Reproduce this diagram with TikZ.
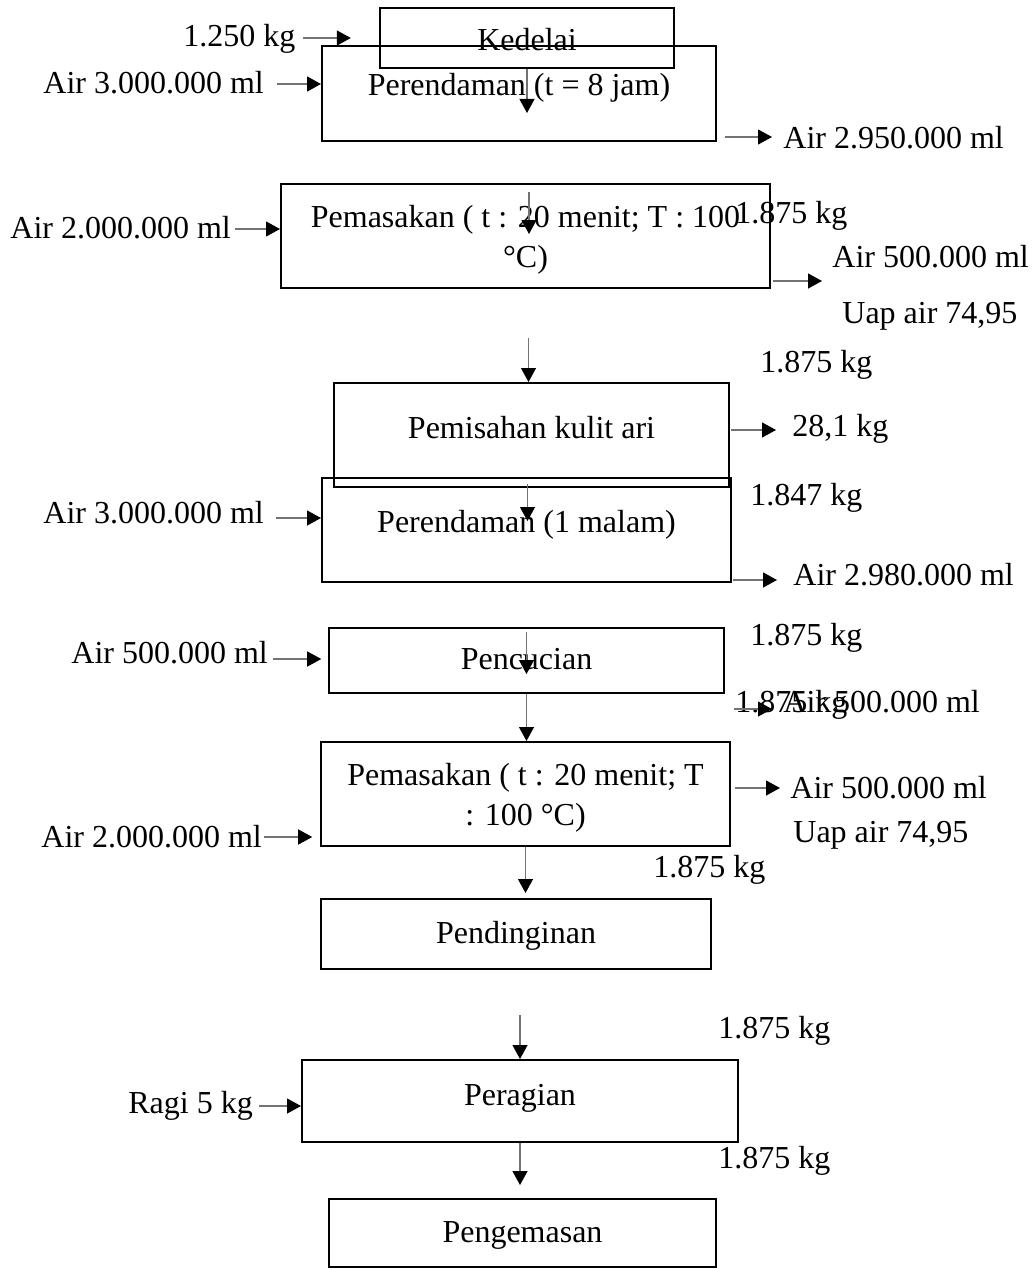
\documentclass[tikz,border=0pt]{standalone}
\usepackage{fontspec}
\setmainfont{Liberation Serif}
\usepackage{tikz}
\usetikzlibrary{arrows.meta, calc}

\tikzset{
  box/.style={draw, line width=1pt, inner sep=0pt},
  oneline/.style={box, text height=13pt, text depth=#1},
  oneline/.default=4pt,
  twoline/.style={box, align=center},
  txt/.style={anchor=west, inner sep=0pt, text height=17pt, text depth=3.5pt},
  flow/.style={draw=black!55, line width=0.6pt, -{Triangle[length=7pt, width=7.5pt, color=black]}}
}

\begin{document}
\begin{tikzpicture}[x=0.5pt, y=-0.5pt, font=\fontsize{16}{20}\selectfont]
\useasboundingbox (0,0) rectangle (1032,1268);

% proses
\node[oneline, text height=16.5pt, minimum width=147pt, minimum height=30pt] (kedelai) at (527,38) {Kedelai};
\node[oneline=11pt, minimum width=197pt, minimum height=47.5pt] (rendam1) at (519,93.5) {Perendaman (t = 8 jam)};
\node[twoline, minimum width=244.5pt, minimum height=52pt] (masak1) at (525.5,236) {\rule{0pt}{15pt}Pemasakan ( t : 20 menit; T : 100\\°C)};
\node[oneline=9.5pt, minimum width=197.5pt, minimum height=52pt] (kulit) at (531.5,435) {Pemisahan kulit ari};
\node[oneline=10.5pt, minimum width=204.5pt, minimum height=52pt] (rendam2) at (526.5,530) {Perendaman (1 malam)};
\node[oneline, minimum width=197.5pt, minimum height=32.5pt] (cuci) at (526.5,660.5) {Pencucian};
\node[twoline, minimum width=204.5pt, minimum height=52pt] (masak2) at (525.5,794) {\rule{0pt}{15pt}Pemasakan ( t : 20 menit; T\\: 100 °C)};
\node[oneline, minimum width=195pt, minimum height=35pt] (dingin) at (516,934) {Pendinginan};
\node[oneline=8.5pt, minimum width=218pt, minimum height=41pt] (ragi) at (520,1101) {Peragian};
\node[oneline, minimum width=193.5pt, minimum height=34pt] (kemas) at (522.5,1233) {Pengemasan};

% masuk / keluar
\node[txt] (inkg) at (183,33) {1.250 kg};
\node[txt] (inair1) at (43,80) {Air 3.000.000 ml};
\node[txt] (outair1) at (783,135) {Air 2.950.000 ml};
\node[txt] (inair2) at (10,225) {Air 2.000.000 ml};
\node[txt] (kg1) at (735,210) {1.875 kg};
\node[txt] (outair2) at (832,254) {Air 500.000 ml};
\node[txt] (outuap1) at (842,310) {Uap air 74,95};
\node[txt] (kg2) at (760,359) {1.875 kg};
\node[txt] (outkulit) at (792,423) {28,1 kg};
\node[txt] (kg3) at (750,492) {1.847 kg};
\node[txt] (inair3) at (43,510) {Air 3.000.000 ml};
\node[txt] (outair3) at (793,572) {Air 2.980.000 ml};
\node[txt] (kg4) at (750,632) {1.875 kg};
\node[txt] (inair4) at (71,650) {Air 500.000 ml};
\node[txt] (kg5) at (735,699) {1.875 kg};
\node[txt] (outair4) at (783,699) {Air 500.000 ml};
\node[txt] (outair5) at (790,785) {Air 500.000 ml};
\node[txt] (outuap2) at (793,829) {Uap air 74,95};
\node[txt] (inair5) at (41,834) {Air 2.000.000 ml};
\node[txt] (kg6) at (653,864) {1.875 kg};
\node[txt] (kg7) at (718,1025) {1.875 kg};
\node[txt] (inragi) at (128,1100) {Ragi 5 kg};
\node[txt] (kg8) at (718,1155) {1.875 kg};

% panah
\draw[flow] ($(inkg.east)+(7,5)$) -- ++(48,0);
\draw[flow] ($(inair1.east)+(13,4)$) -- ($(inair1.east -| rendam1.west)+(0,4)$);
\draw[flow] (kedelai.south) -- ++(0,44);
\draw[flow] ($(outair1.west -| rendam1.east)+(8,2)$) -- ($(outair1.west)+(-11,2)$);
\draw[flow] ($(masak1.north)+(3.5,9)$) -- ++(0,42);
\draw[flow] ($(inair2.east)+(4,4)$) -- ($(inair2.east -| masak1.west)+(0,4)$);
\draw[flow] ($(masak1.south east)+(2,-8)$) -- ++(49,0);
\draw[flow] ($(kulit.north)+(-3,-44)$) -- ($(kulit.north)+(-3,0)$);
\draw[flow] ($(outkulit.west -| kulit.east)+(1,7)$) -- ($(outkulit.west)+(-16,7)$);
\draw[flow] ($(rendam2.north)+(1,7)$) -- ++(0,37);
\draw[flow] ($(inair3.east)+(12,8)$) -- ($(inair3.east -| rendam2.west)+(0,8)$);
\draw[flow] ($(outair3.west -| rendam2.east)+(1,8)$) -- ($(outair3.west)+(-16,8)$);
\draw[flow] ($(inair4.east)+(5,9)$) -- ++(48,0);
\draw[flow] ($(cuci.north)+(0,5)$) -- ++(0,42);
\draw[flow] ($(outair4.west -| cuci.east)+(9,10)$) -- ($(outair4.west)+(-11,10)$);
\draw[flow] (cuci.south) -- (cuci.south |- masak2.north);
\draw[flow] ($(outair5.west -| masak2.east)+(4,3)$) -- ($(outair5.west)+(-10,3)$);
\draw[flow] ($(inair5.east)+(2,3)$) -- ++(48,0);
\draw[flow] (masak2.south) -- ++(0,46);
\draw[flow] ($(ragi.north)+(0,-44)$) -- (ragi.north);
\draw[flow] ($(inragi.east)+(6,6)$) -- ($(inragi.east -| ragi.west)+(0,6)$);
\draw[flow] (ragi.south) -- ++(0,42);
\end{tikzpicture}
\end{document}
